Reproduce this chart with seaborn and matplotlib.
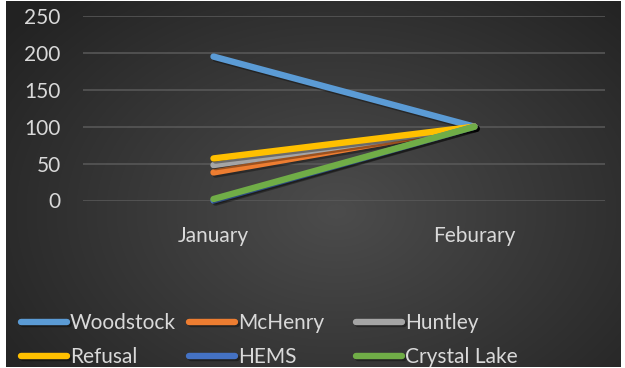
import numpy as np
import pandas as pd
import matplotlib
matplotlib.use("Agg")
import matplotlib.pyplot as plt
import matplotlib.patheffects as pe
import seaborn as sns

months = ["January", "Feburary"]
series = ["Woodstock", "McHenry", "Huntley", "Refusal", "HEMS", "Crystal Lake"]
woodstock = [195, 100]
mchenry = [38, 100]
huntley = [48, 100]
refusal = [57, 100]
hems = [0, 100]
crystal_lake = [2, 100]
colors = ["#5B9BD5", "#ED7D31", "#A5A5A5", "#FFC000", "#4472C4", "#70AD47"]
yticks = [0, 50, 100, 150, 200, 250]

values = [woodstock, mchenry, huntley, refusal, hems, crystal_lake]
rows = []
for name, vals in zip(series, values):
    for m, v in zip(months, vals):
        rows.append({"month": m, "value": v, "series": name})
df = pd.DataFrame(rows)

plt.rcParams["font.family"] = ["Lato", "DejaVu Sans"]
txt = "#D9D9D9"
W, H = 625, 368
fig = plt.figure(figsize=(W / 100, H / 100), dpi=100, facecolor="white")

# background radial gradient
bg = fig.add_axes([6 / W, 1 / H, 615 / W, 366 / H])
bg.axis("off")
yy, xx = np.mgrid[0:366, 0:615]
cx, cy = 330, 210
r = np.sqrt(((xx - cx) / 420) ** 2 + ((yy - cy) / 300) ** 2)
r = np.clip(r, 0, 1)
c0 = np.array([0x4C, 0x4C, 0x4C]) / 255
c1 = np.array([0x22, 0x22, 0x22]) / 255
img = c0[None, None, :] * (1 - r[..., None]) + c1[None, None, :] * r[..., None]
bg.imshow(img, aspect="auto", extent=(0, 1, 0, 1), origin="upper")
bg.set_xlim(0, 1)
bg.set_ylim(0, 1)

ax = fig.add_axes([83 / W, (H - 200.5) / H, 522 / W, 184.5 / H])
ax.set_facecolor("none")
sns.lineplot(data=df, x="month", y="value", hue="series", hue_order=series,
             palette=colors, ax=ax, linewidth=4.6, sort=False, legend=True)
handles, labels = ax.get_legend_handles_labels()
ax.get_legend().remove()

for line in ax.get_lines():
    line.set_solid_capstyle("round")
    line.set_clip_on(False)
    line.set_path_effects([pe.SimpleLineShadow(offset=(1.5, -1.5), alpha=0.35, shadow_color="black"),
                           pe.Normal()])

ax.set_xlim(-0.5, 1.5)
ax.set_ylim(0, 250)
ax.set_yticks(yticks)
ax.set_yticklabels([str(v) for v in yticks])
ax.grid(axis="y", color="#5A5A5A", linewidth=1.1, zorder=0)
ax.set_axisbelow(True)
for s in ax.spines.values():
    s.set_visible(False)
ax.tick_params(axis="both", length=0, colors=txt, labelsize=15)
ax.tick_params(axis="y", pad=16)
ax.tick_params(axis="x", pad=18)
ax.set_xlabel("")
ax.set_ylabel("")

hmap = dict(zip(labels, handles))
cols = [["Woodstock", "Refusal"], ["McHenry", "HEMS"], ["Huntley", "Crystal Lake"]]
xs = [21, 189, 356]
for x0, col in zip(xs, cols):
    hs = [hmap[c] for c in col]
    for h in hs:
        h.set_linewidth(4.6)
        h.set_solid_capstyle("round")
    leg = fig.legend(hs, col, loc="upper left", bbox_to_anchor=(x0 / W, 1 - 313 / H),
                     frameon=False, fontsize=15, labelcolor=txt, handlelength=2.2,
                     handletextpad=0.15, labelspacing=0.68, borderpad=0, borderaxespad=0)

fig.savefig("out.png", dpi=100, facecolor="white")
